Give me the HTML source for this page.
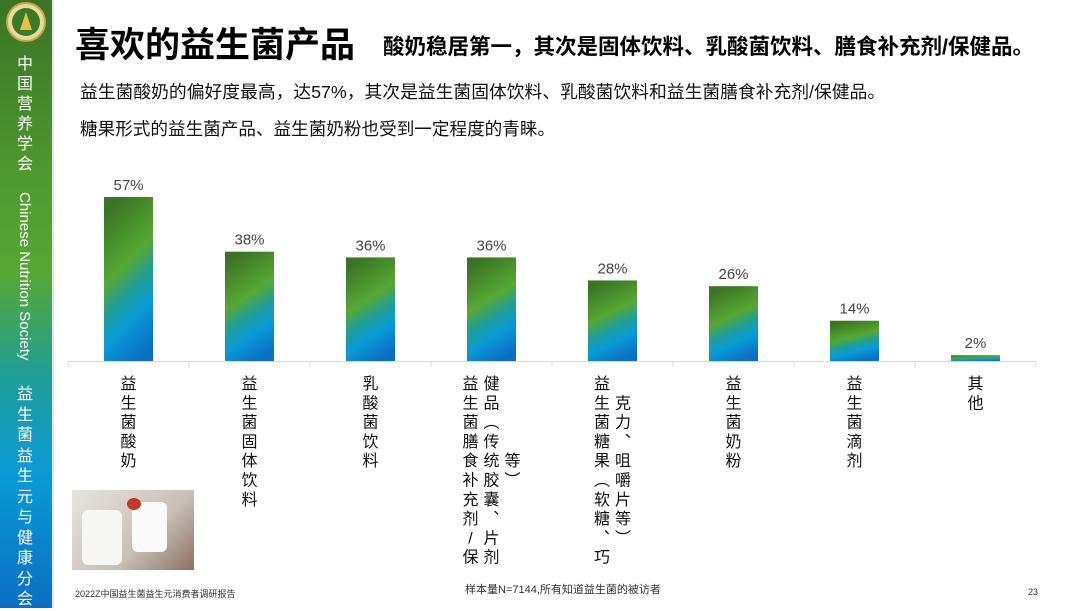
<!DOCTYPE html>
<html><head><meta charset="utf-8"><style>
body{margin:0;width:1080px;height:608px;overflow:hidden;background:#fff;font-family:"Liberation Sans","Noto Sans CJK SC",sans-serif;position:relative}
.side{position:absolute;left:0;top:0;width:52px;height:608px;background:linear-gradient(#3a7424 0%,#4f9a30 30%,#56a834 45%,#1f9e98 62%,#0a9ad6 78%,#0b6fc4 100%);border-right:2px solid #e6e6e6}
.abs{position:absolute;white-space:nowrap}
</style></head><body>
<div class="side">
 <svg width="52" height="60" style="position:absolute;left:0;top:0"><circle cx="26" cy="22" r="19" fill="#e8d8a0" stroke="#c6a648" stroke-width="2"/><circle cx="26" cy="22" r="14" fill="#3a7a25"/><path d="M26 12 L20 30 L32 30Z" fill="#e8c040"/></svg>
 <div class="abs" style="left:17px;top:55px;width:18px;color:#fff;font-size:16px;line-height:20px;white-space:normal">中国营养学会</div>
 <div class="abs" style="left:16px;top:192px;writing-mode:vertical-rl;color:#fff;font-size:15px">Chinese Nutrition Society</div>
 <div class="abs" style="left:17px;top:385px;width:18px;color:#fff;font-size:16px;line-height:20.5px;white-space:normal">益生菌益生元与健康分会</div>
</div>
<div class="abs" style="left:75px;top:17px;font-size:35px;font-weight:bold;color:#000">喜欢的益生菌产品</div>
<div class="abs" style="left:383px;top:30px;font-size:21.5px;font-weight:bold;color:#000">酸奶稳居第一，其次是固体饮料、乳酸菌饮料、膳食补充剂/保健品。</div>
<div class="abs" style="left:80px;top:78px;font-size:17.8px;color:#111">益生菌酸奶的偏好度最高，达57%，其次是益生菌固体饮料、乳酸菌饮料和益生菌膳食补充剂/保健品。</div>
<div class="abs" style="left:80px;top:116px;font-size:17.6px;color:#111">糖果形式的益生菌产品、益生菌奶粉也受到一定程度的青睐。</div>
<div class="abs" style="left:72px;top:490px;width:122px;height:80px;background:linear-gradient(135deg,#e8e4de,#c8c0b8 60%,#8a7060);">
 <div style="position:absolute;left:10px;top:20px;width:40px;height:55px;background:#f6f6f4;border-radius:6px"></div>
 <div style="position:absolute;left:60px;top:12px;width:35px;height:50px;background:#fafafa;border-radius:6px"></div>
 <div style="position:absolute;left:55px;top:8px;width:14px;height:12px;background:#c0392b;border-radius:50%"></div>
</div>
<div class="abs" style="left:75px;top:587px;font-size:9px;color:#333">2022Z中国益生菌益生元消费者调研报告</div>
<div class="abs" style="left:465px;top:581px;font-size:11px;color:#333">样本量N=7144,所有知道益生菌的被访者</div>
<div class="abs" style="left:1028px;top:587px;font-size:9px;color:#333">23</div>
<svg id="chart" width="1080" height="608" style="position:absolute;left:0;top:0">
<defs><linearGradient id="g" x1="0.35" y1="0" x2="0.65" y2="1">
<stop offset="0" stop-color="#3a7424"/><stop offset="0.4" stop-color="#56a834"/><stop offset="0.58" stop-color="#1f9e98"/><stop offset="0.75" stop-color="#0a9ad6"/><stop offset="1" stop-color="#0b6fc4"/></linearGradient></defs>
</svg>
<script>
const categories=[["益生菌酸奶"],["益生菌固体饮料"],["乳酸菌饮料"],["益生菌膳食补充剂/保","健品︵传统胶囊︑片剂","等︶"],["益生菌糖果︵软糖︑巧","克力︑咀嚼片等︶"],["益生菌奶粉"],["益生菌滴剂"],["其他"]];
const values=[57,38,36,36,28,26,14,2];
const valueLabels=["57%","38%","36%","36%","28%","26%","14%","2%"];
const NS="http://www.w3.org/2000/svg";
const svg=document.getElementById('chart');
const x0=68,step=121,base=361,scale=2.877,bw=49;
const xc=i=>x0+step*(i+0.5);
const y=v=>base-v*scale;
function mk(t,a){const e=document.createElementNS(NS,t);for(const k in a)e.setAttribute(k,a[k]);svg.appendChild(e);return e;}
const ax=mk('line',{x1:x0,x2:x0+step*8,y1:base+0.5,y2:base+0.5,stroke:'#d9d9d9','stroke-width':1});


for(let i=0;i<=8;i++){const t=mk('line',{x1:x0+step*i,x2:x0+step*i,y1:base,y2:base+6,stroke:'#d9d9d9'});

}
const colStarts=[[0],[0],[0],[0,0,4],[0,1]];
values.forEach((v,i)=>{
 const r=mk('rect',{x:xc(i)-bw/2,y:y(v),width:bw,height:base-y(v),fill:'url(#g)'});
 
 
 const l=mk('text',{x:xc(i),y:y(v)-7,'text-anchor':'middle','font-size':15,fill:'#444'});
 l.textContent=valueLabels[i];
 
 
 const cols=categories[i];
 const cx0=xc(i)-(cols.length-1)*10.5;
 cols.forEach((c,j)=>{
  const off=(colStarts[i]&&colStarts[i][j])||0;
  [...c].forEach((ch,k)=>{
   const t=mk('text',{x:cx0+j*21,y:389+(k+off)*19.3,'text-anchor':'middle','font-size':16,fill:'#111'});
   t.textContent=ch;
   
   
  });
 });
});
</script>
</body></html>
